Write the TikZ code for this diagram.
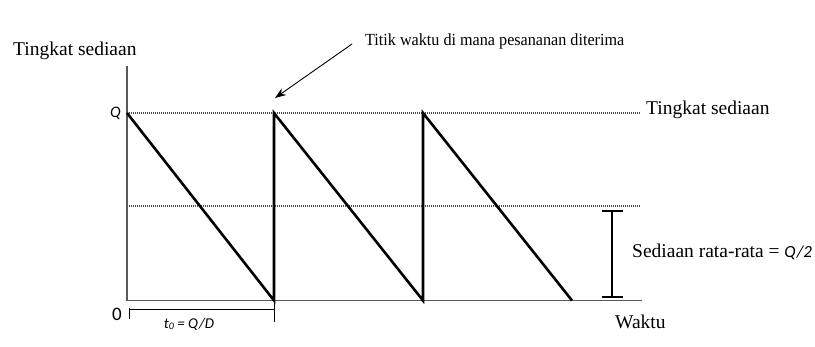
\documentclass[tikz,border=0pt]{standalone}
\usepackage{fontspec}
\setmainfont{Liberation Serif}
\newfontfamily\carl{Carlito}
\usetikzlibrary{arrows.meta}
\begin{document}
\begin{tikzpicture}[x=1pt,y=-1pt,
  axis/.style={draw=black!65,line width=1.4pt},
  saw/.style={draw=black,line width=2.6pt,line join=miter},
  dotl/.style={draw=black!70,line width=1.1pt,dash pattern=on 1pt off 1pt},
  big/.style={font=\fontsize{19.5}{22}\selectfont,inner sep=0pt},
  lab/.style={font=\carl\itshape\fontsize{15}{17}\selectfont,inner sep=0pt},
  dim/.style={draw=black,line width=1pt}]
\useasboundingbox (0,0) rectangle (815,347);
% axes
\coordinate (O) at (127,300.5);
\coordinate (Ytop) at (127,66);
\coordinate (Xend) at (642,300.5);
% sawtooth points
\coordinate (Q0) at (127,113);
\coordinate (B1) at (274,300.5);
\coordinate (T1) at (274,113);
\coordinate (B2) at (423,300.5);
\coordinate (T2) at (423,113);
\coordinate (B3) at (572,300.5);
% dotted lines
\coordinate (QE) at (640,113);
\coordinate (H0) at (127,206);
\coordinate (HE) at (640,206);
\draw[dotl] (Q0) -- (QE);
\draw[dotl] (H0) -- (HE);
\draw[axis] (Ytop) -- (O) -- (Xend);
\draw[saw] (Q0) -- (B1) -- (T1) -- (B2) -- (T2) -- (B3);
% labels
\node[big,anchor=west] (ylab) at (13,51) {Tingkat sediaan};
\node[big,anchor=west] (qlab) at (646,110) {Tingkat sediaan};
\node[big,anchor=west] (xlab) at (615,322) {Waktu};
\node[lab,font=\carl\itshape\fontsize{16}{18}\selectfont] (Q) at (115.5,113) {Q};
\node[inner sep=0pt,font=\carl\fontsize{19}{21}\selectfont] (zero) at (117,314) {0};
% arrow annotation
\node[inner sep=0pt,anchor=west,xscale=0.95,font=\fontsize{17}{19}\selectfont] (note) at (365,41) {Titik waktu di mana pesananan diterima};
\coordinate (tip) at (275,98);
\draw[line width=0.9pt,-{Stealth[length=11pt,width=8pt]}] (note.west) ++(-13,3) coordinate (nstart) -- (tip);
% dimension t0
\coordinate (d0) at (129,308);
\coordinate (d0b) at (129,319);
\coordinate (d1) at (274,322);
\draw[dim] (d0) -- (d0b);
\draw[dim] (B1) -- (d1);
\draw[dim] (129,309.5) -- (274,309.5);
\node[lab] (t0) at (189,324) {t\raisebox{-0.25ex}{\fontsize{10}{12}\selectfont 0} = Q/D};
% I-beam average
\coordinate (Itop) at (612,211);
\coordinate (Ibot) at (612,297);
\draw[line width=2.8pt] (Itop) -- (Ibot);
\draw[line width=2.8pt] (601.5,211) -- (622.5,211);
\draw[line width=2.8pt] (601.5,297) -- (622.5,297);
\node[big,anchor=west] (avg) at (632,252) {Sediaan rata-rata = {\carl\itshape\fontsize{17}{19}\selectfont Q/2}};
\end{tikzpicture}
\end{document}
